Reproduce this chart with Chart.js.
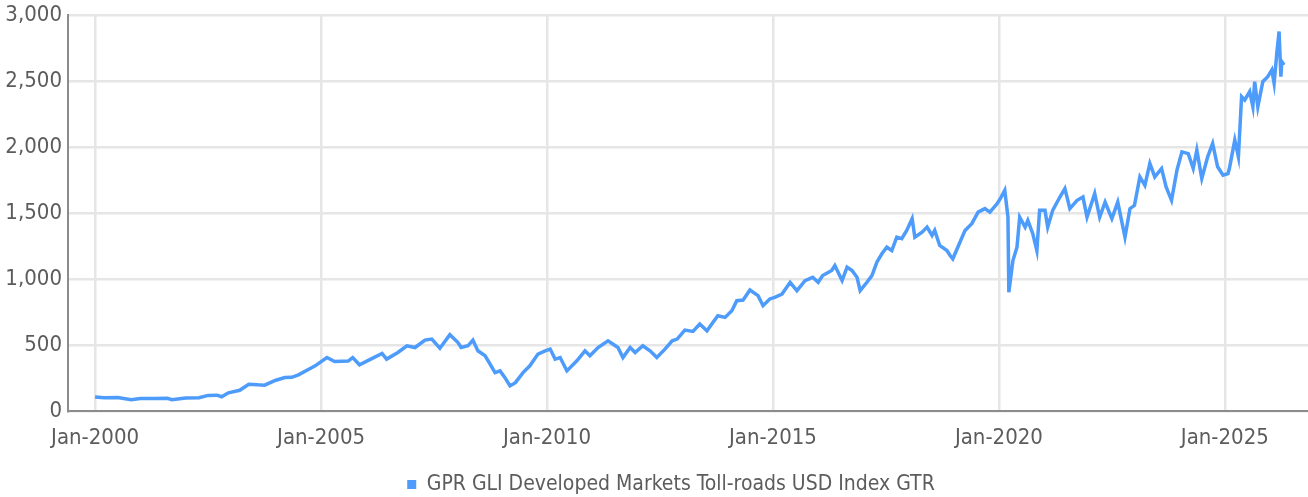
<!DOCTYPE html>
<html>
<head>
<meta charset="utf-8">
<title>GPR GLI Developed Markets Toll-roads USD Index GTR</title>
<script src="https://cdn.jsdelivr.net/npm/chart.js@4.4.1/dist/chart.umd.min.js"></script>
<style>
  html, body { margin: 0; padding: 0; background: #fff; }
  #wrap { width: 1308px; height: 497px; position: relative; }
</style>
</head>
<body>
<div id="wrap"><canvas id="chart"></canvas></div>
<script>
const seriesLabel = 'GPR GLI Developed Markets Toll-roads USD Index GTR';

// decimal years
const years = [
  2000.0, 2000.2, 2000.5, 2000.8, 2001.0, 2001.3, 2001.6, 2001.7, 2002.0, 2002.3,
  2002.5, 2002.7, 2002.8, 2002.95, 2003.2, 2003.4, 2003.6, 2003.75, 2004.0, 2004.2,
  2004.35, 2004.5, 2004.8, 2004.87, 2005.13, 2005.3, 2005.6, 2005.7, 2005.85, 2006.1,
  2006.35, 2006.45, 2006.7, 2006.9, 2007.08, 2007.3, 2007.45, 2007.63, 2007.85, 2008.03,
  2008.1, 2008.25, 2008.36, 2008.47, 2008.63, 2008.74, 2008.85, 2008.96, 2009.07, 2009.18,
  2009.3, 2009.47, 2009.62, 2009.8, 2009.96, 2010.07, 2010.18, 2010.29, 2010.44, 2010.66,
  2010.84, 2010.95, 2011.13, 2011.35, 2011.57, 2011.68, 2011.84, 2011.95, 2012.12, 2012.28,
  2012.43, 2012.61, 2012.77, 2012.88, 2013.05, 2013.23, 2013.38, 2013.54, 2013.67, 2013.78,
  2013.94, 2014.09, 2014.2, 2014.34, 2014.49, 2014.67, 2014.78, 2014.93, 2015.04, 2015.2,
  2015.38, 2015.53, 2015.71, 2015.88, 2016.0, 2016.1, 2016.3, 2016.37, 2016.53, 2016.64,
  2016.75, 2016.86, 2016.93, 2017.08, 2017.19, 2017.3, 2017.41, 2017.52, 2017.63, 2017.74,
  2017.85, 2017.96, 2018.08, 2018.14, 2018.3, 2018.41, 2018.52, 2018.58, 2018.69, 2018.85,
  2018.92, 2018.98, 2019.09, 2019.25, 2019.4, 2019.54, 2019.69, 2019.8, 2019.96, 2020.05,
  2020.13, 2020.2, 2020.22, 2020.31, 2020.4, 2020.46, 2020.58, 2020.64, 2020.75, 2020.84,
  2020.9, 2021.02, 2021.08, 2021.19, 2021.35, 2021.46, 2021.57, 2021.73, 2021.86, 2021.95,
  2022.12, 2022.23, 2022.35, 2022.5, 2022.63, 2022.79, 2022.9, 2023.0, 2023.12, 2023.23,
  2023.34, 2023.45, 2023.6, 2023.7, 2023.82, 2023.94, 2024.05, 2024.19, 2024.3, 2024.38,
  2024.49, 2024.62, 2024.73, 2024.84, 2024.96, 2025.07, 2025.1, 2025.22, 2025.3, 2025.37,
  2025.44, 2025.55, 2025.62, 2025.66, 2025.73, 2025.84, 2025.95, 2026.04, 2026.09, 2026.15,
  2026.2, 2026.24, 2026.26, 2026.31
];

const values = [
  106, 100, 102, 86, 95, 94, 96, 85, 99, 100,
  118, 120, 108, 138, 157, 203, 198, 196, 233, 253,
  255, 274, 329, 342, 405, 375, 378, 405, 350, 393,
  436, 393, 443, 494, 481, 537, 545, 476, 578, 519,
  481, 494, 537, 456, 418, 355, 291, 304, 253, 190,
  215, 291, 342, 431, 456, 469, 393, 405, 304, 380,
  456, 418, 481, 532, 481, 405, 481, 443, 494, 456,
  405, 469, 532, 545, 613, 603, 659, 608, 671, 722,
  709, 760, 836, 841, 917, 874, 798, 849, 861, 886,
  975, 912, 988, 1013, 975, 1026, 1064, 1102, 988, 1089,
  1064, 1013, 912, 975, 1026, 1127, 1191, 1241, 1216, 1317,
  1305, 1368, 1457, 1317, 1355, 1393, 1330, 1368, 1254, 1216,
  1178, 1153, 1241, 1368, 1419, 1507, 1533, 1507, 1571, 1620,
  1672, 1469, 899, 1140, 1241, 1469, 1393, 1444, 1343, 1216,
  1520, 1520, 1393, 1520, 1621, 1685, 1533, 1596, 1621, 1469,
  1647, 1469, 1583, 1457, 1583, 1317, 1533, 1558, 1773, 1710,
  1875, 1773, 1837, 1697, 1596, 1824, 1963, 1950, 1837, 1976,
  1761, 1925, 2027, 1850, 1786, 1799, 1837, 2052, 1925, 2381,
  2356, 2420, 2305, 2495, 2305, 2495, 2533, 2584, 2483, 2711,
  2875, 2533, 2647, 2622
];

const xTickYears = [2000, 2005, 2010, 2015, 2020, 2025];
const yTicks = [0, 500, 1000, 1500, 2000, 2500, 3000];

const lineColor = 'rgb(77, 155, 250)';
const textColor = '#5c5c5c';
const gridColor = '#e6e6e6';
const axisColor = '#8c8c8c';
const fontFamily = "'Liberation Sans Narrow', 'DejaVu Sans Condensed', 'Arial Narrow', sans-serif";

Chart.defaults.font.family = fontFamily;
Chart.defaults.color = textColor;

// nudge the legend a little to the right, like the original
const legendShift = {
  id: 'legendShift',
  afterLayout(chart) {
    if (chart.legend) {
      chart.legend.left += 17;
      chart.legend.right += 17;
    }
  }
};

const ctx = document.getElementById('chart');

new Chart(ctx, {
  type: 'line',
  data: {
    datasets: [{
      label: seriesLabel,
      data: years.map((y, i) => ({ x: y, y: values[i] })),
      borderColor: lineColor,
      backgroundColor: lineColor,
      borderWidth: 3.5,
      pointRadius: 0,
      tension: 0,
      fill: false
    }]
  },
  options: {
    responsive: true,
    maintainAspectRatio: false,
    animation: false,
    layout: {
      // legend sits a bit lower than Chart.js would put it
      padding: { top: 0, right: 0, bottom: -8, left: 0 }
    },
    scales: {
      x: {
        type: 'linear',
        min: 1999.4,
        max: 2026.84,
        afterBuildTicks: scale => {
          scale.ticks = xTickYears.map(v => ({ value: v }));
        },
        afterFit: scale => { scale.height = 57; },
        grid: { color: gridColor, lineWidth: 2.5, drawTicks: false },
        border: { color: axisColor, width: 2 },
        ticks: {
          padding: 14,
          maxRotation: 0,
          font: { size: 22 },
          color: textColor,
          callback: v => 'Jan-' + v
        }
      },
      y: {
        min: 0,
        max: 3000,
        afterBuildTicks: scale => {
          scale.ticks = yTicks.map(v => ({ value: v }));
        },
        afterFit: scale => {
          scale.width = 68;
          scale.paddingTop = 15;
        },
        grid: { color: gridColor, lineWidth: 2.5, drawTicks: false },
        border: { color: axisColor, width: 2 },
        ticks: {
          padding: 6,
          font: { size: 22 },
          color: textColor,
          callback: v => v.toLocaleString('en-US')
        }
      }
    },
    plugins: {
      legend: {
        position: 'bottom',
        labels: {
          boxWidth: 9,
          boxHeight: 9,
          padding: 6,
          font: { size: 21 },
          color: textColor,
          generateLabels: chart =>
            Chart.defaults.plugins.legend.labels.generateLabels(chart).map(l => ({
              ...l, lineWidth: 0, fillStyle: lineColor, strokeStyle: lineColor
            }))
        }
      },
      tooltip: { enabled: false }
    }
  },
  plugins: [legendShift]
});
</script>
</body>
</html>
